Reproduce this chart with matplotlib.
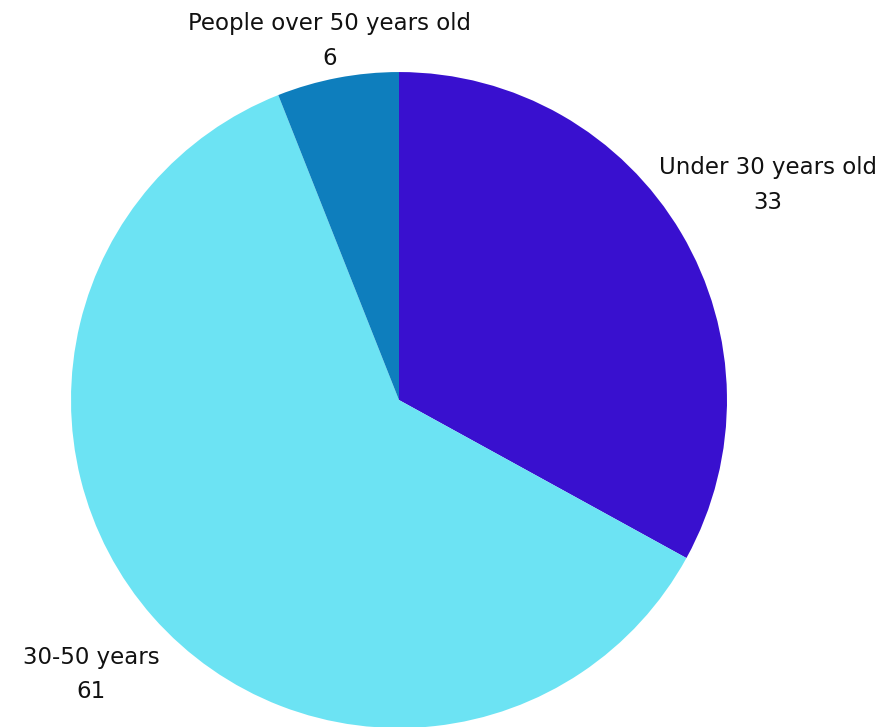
import numpy as np
import matplotlib.pyplot as plt

labels = ["Under 30 years old", "30-50 years", "People over 50 years old"]
values = [33, 61, 6]
colors = ["#3910CF", "#6CE3F3", "#0E7EBD"]
label_dist = [1.307, 1.252, 1.124]

fig = plt.figure(figsize=(8.84, 7.27), dpi=100)
ax = fig.add_axes([0.0803, -0.0014, 0.7421, 0.9023])

wedges, _ = ax.pie(values, colors=colors, startangle=90, counterclock=False,
                   radius=1.0, wedgeprops=dict(linewidth=0))

for w, lab, v, d in zip(wedges, labels, values, label_dist):
    ang = np.deg2rad((w.theta1 + w.theta2) / 2)
    ax.text(d * np.cos(ang), d * np.sin(ang) - 0.009, f"{lab}\n{v}", ha="center", va="center",
            fontsize=16.5, color="#111111", linespacing=1.65)

ax.set_xlim(-1, 1)
ax.set_ylim(-1, 1)
ax.set_aspect("equal")
ax.axis("off")

fig.savefig("out.png", dpi=100)
